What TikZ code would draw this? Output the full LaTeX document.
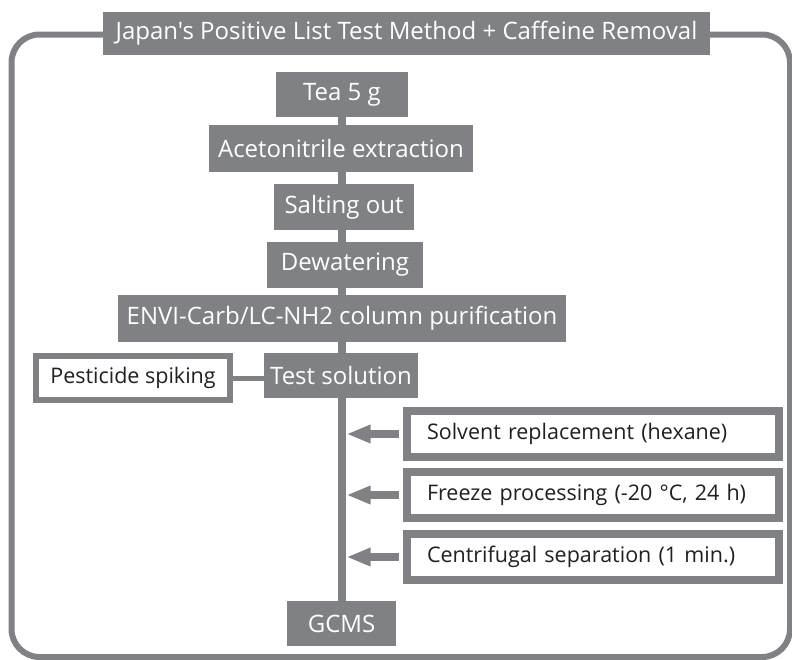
\documentclass[tikz,border=0pt]{standalone}
\usepackage{fontspec}
\setmainfont{Open Sans}[Ligatures=TeXOff]
\usetikzlibrary{arrows.meta}
\definecolor{gr}{RGB}{128,129,133}
\definecolor{ink}{RGB}{35,31,32}
\begin{document}
\begin{tikzpicture}[x=1pt,y=-1pt,
  gtxt/.style={font=\fontsize{24}{28}\selectfont},
  wtxt/.style={font=\fontsize{21.5}{26}\selectfont},
  gbox/.style={gtxt, fill=gr, text=white, inner sep=0pt, minimum height=45pt},
  wbox/.style={wtxt, draw=gr, line width=8pt, fill=white, text=ink, inner ysep=0pt, inner xsep=20pt,
               minimum height=46pt, text width=332pt, align=left},
  pbox/.style={wtxt, draw=gr, line width=6pt, fill=white, text=ink, inner sep=0pt,
               minimum height=44pt, minimum width=194pt},
  conn/.style={draw=gr, line width=8pt},
  thin/.style={draw=gr, line width=5pt},
  arr/.style={draw=gr, line width=8pt, -{Triangle[length=24pt,width=17pt]}},
  frame/.style={draw=gr, line width=6pt, rounded corners=28pt}
]
\useasboundingbox (0,0) rectangle (792,659);
\draw[frame] (11.5,34.5) rectangle (790,657);

\node[gbox, minimum width=607pt, minimum height=43pt] (title) at (406.5,33.5) {Japan's Positive List Test Method + Caffeine Removal};

\coordinate (top) at (341.5,117);
\coordinate (bot) at (341.5,601);
\draw[conn] (top) -- (bot);

\node[gbox, minimum width=132pt] (tea) at (342,94.5) {Tea 5 g};
\node[gbox, minimum width=264pt, minimum height=47pt] (acet) at (341,148) {Acetonitrile extraction};
\node[gbox, minimum width=140pt, minimum height=46pt] (salt) at (344,207) {Salting out};
\node[gbox, minimum width=156pt, minimum height=46pt] (dew) at (345,265) {Dewatering};
\node[gbox, minimum width=448pt, minimum height=47pt] (envi) at (342,318.5) {ENVI-Carb/LC-NH2 column purification};
\node[gbox, minimum width=154pt] (test) at (341,375.5) {Test solution};
\node[pbox] (pest) at (133,378) {Pesticide spiking};
\draw[thin] (pest.east) -- (test.west |- pest.east);

\node[wbox] (solv) at (593,434) {Solvent replacement (hexane)};
\node[wbox] (frz) at (593,495) {Freeze processing (-20 °C, 24 h)};
\node[wbox] (cent) at (593,557) {Centrifugal separation (1 min.)};
\draw[arr] ([xshift=-4pt]solv.west) -- ([xshift=5pt]solv.west -| top) ;
\draw[arr] ([xshift=-4pt]frz.west) -- ([xshift=5pt]frz.west -| top);
\draw[arr] ([xshift=-4pt]cent.west) -- ([xshift=5pt]cent.west -| top);

\node[gbox, minimum width=109pt] (gcms) at (341.5,623.5) {GCMS};
\end{tikzpicture}
\end{document}
